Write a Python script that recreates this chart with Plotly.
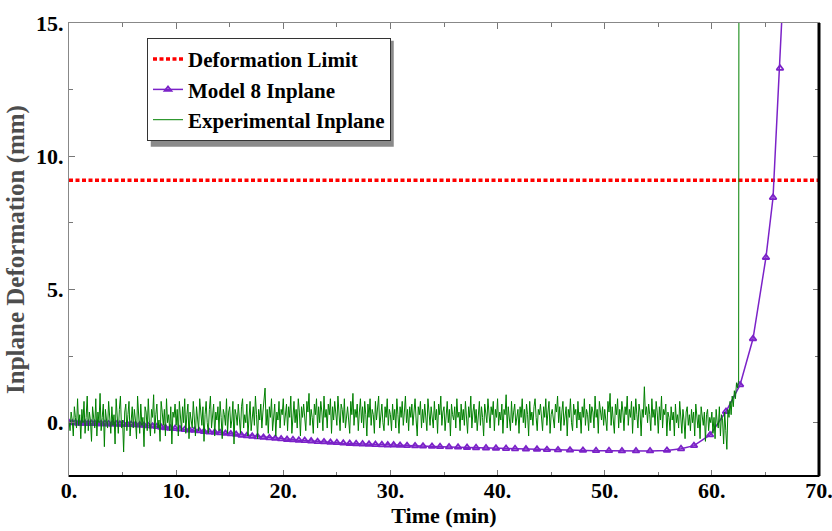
import numpy as np
import plotly.graph_objects as go

# ---- data -------------------------------------------------------------
deformation_limit = 9.1  # mm

# Model 8 in-plane deformation (time in min, deformation in mm)
model_t = [0.0, 0.3, 0.6, 0.9, 1.2, 1.5, 1.8, 2.1, 2.4, 2.7, 3.0, 3.35, 3.7, 4.05,
           4.4, 4.75, 5.1, 5.45, 5.8, 6.2, 6.6, 7.0, 7.4, 7.8, 8.2, 8.6, 9.0, 9.45,
           9.9, 10.35, 10.8, 11.25, 11.7, 12.15, 12.6, 13.1, 13.6, 14.1, 14.6, 15.1,
           15.6, 16.1, 16.6, 17.1, 17.6, 18.15, 18.7, 19.25, 19.8, 20.35, 20.9, 21.45,
           22.0, 22.6, 23.2, 23.8, 24.4, 25.0, 25.6, 26.2, 26.8, 27.4, 28.0, 28.6,
           29.2, 29.75, 30.3, 30.9, 31.55, 32.3, 33.04, 33.88, 34.63, 35.47, 36.31,
           37.15, 37.99, 38.92, 39.85, 40.79, 41.63, 42.65, 43.68, 44.61, 45.64,
           46.76, 47.97, 49.19, 50.40, 51.61, 52.92, 54.23, 55.81, 57.12, 58.33,
           59.83, 61.32, 62.63, 63.84, 65.05, 65.71, 66.36, 67.0]
model_d = [0.0, -0.01, -0.01, -0.02, -0.02, -0.02, -0.03, -0.03, -0.03, -0.04, -0.04,
           -0.04, -0.05, -0.05, -0.05, -0.06, -0.06, -0.07, -0.07, -0.08, -0.09, -0.10,
           -0.12, -0.13, -0.15, -0.17, -0.19, -0.21, -0.22, -0.24, -0.26, -0.28, -0.29,
           -0.31, -0.33, -0.35, -0.36, -0.38, -0.40, -0.42, -0.44, -0.47, -0.49, -0.51,
           -0.53, -0.55, -0.57, -0.59, -0.61, -0.63, -0.64, -0.66, -0.67, -0.69, -0.71,
           -0.72, -0.74, -0.75, -0.77, -0.78, -0.79, -0.80, -0.81, -0.82, -0.83, -0.84,
           -0.84, -0.85, -0.86, -0.87, -0.88, -0.89, -0.90, -0.91, -0.92, -0.93, -0.94,
           -0.95, -0.96, -0.97, -0.98, -0.99, -1.00, -1.01, -1.02, -1.03, -1.04, -1.05,
           -1.05, -1.06, -1.06, -1.06, -1.04, -0.98, -0.86, -0.46, 0.42, 1.42, 3.15,
           6.2, 8.45, 13.3, 19.0]

# Experimental in-plane deformation, logged every 0.1 min from t = 0
exp_dt = 0.1
exp_d = [
    0.05, -0.3, 0.4, 0.1, -0.5, 0.6, 0.2, -0.2, 0.9, -0.1, 0.3, -0.6, 0.5, 0.0, 0.8, -0.4, 0.2, 1.0, -0.3, 0.4,
    0.1, -0.7, 0.6, 0.3, -0.2, 0.9, -0.5, 0.4, 0.0, 1.1, -0.3, 0.2, 0.7, -0.9, 0.5, 0.1, -0.2, 0.8, 0.3, -0.4,
    0.6, -0.1, 0.3, -0.8, 0.9, 0.2, -0.4, 0.5, 1.0, -0.2, 0.1, -1.1, 0.4, 0.7, -0.3, 0.3, 0.8, -0.5, 0.2, 0.6,
    -0.2, 0.5, 0.1, -0.6, 1.0, 0.3, -0.4, 0.7, -0.1, 0.2, -0.9, 0.6, 0.4, -0.3, 0.9, 0.0, -0.5, 0.5, 0.2, 1.05,
    -0.4, 0.3, 0.7, -0.2, 0.1, -0.7, 0.8, 0.4, -0.1, 0.5, -0.5, 0.9, 0.0, 0.3, -0.3, 0.6, -0.8, 0.4, 0.2, 0.7,
    -0.1, 0.5, -0.5, 0.8, 0.2, -0.3, 0.6, 0.0, 0.9, -0.4, 0.3, 0.7, -0.6, 0.4, 0.1, -0.2, 0.8, 0.3, -0.5, 0.6,
    0.2, -0.3, 0.9, 0.4, -0.1, 0.6, -0.7, 0.3, 0.8, 0.0, -0.4, 0.5, 1.0, -0.2, 0.2, 0.7, -0.5, 0.4, 0.1, 0.6,
    -0.3, 0.8, 0.2, -0.6, 0.5, 0.3, -0.1, 0.9, -0.4, 0.4, 0.6, -0.2, 0.1, 0.8, -0.8, 0.5, 0.3, -0.1, 0.7, 0.2,
    -0.4, 0.6, 0.9, -0.2, 0.3, 0.0, 0.7, -0.5, 0.4, 0.8, -0.3, 0.2, 0.6, -0.1, 1.0, 0.3, -0.6, 0.5, 0.1, 0.7,
    -0.2, 0.4, 0.8, 1.3, -0.1, 0.5, -0.4, 0.6, 0.2, 0.9, -0.3, 0.3, 0.7, -0.5, 0.4, 0.1, 0.8, -0.2, 0.5, 0.3,
    0.9, -0.1, 0.4, 0.7, -0.3, 0.6, 0.2, 1.0, -0.4, 0.3, 0.8, 0.0, 0.5, -0.2, 0.9, 0.4, -0.5, 0.6, 0.2, 0.7,
    0.1, -0.3, 0.8, 0.4, 1.1, -0.1, 0.5, 0.2, -0.4, 0.7, 0.3, 0.9, -0.2, 0.6, 0.0, 0.8, 0.4, -0.3, 1.0, 0.2,
    0.5, -0.2, 0.7, 0.3, 0.9, -0.4, 0.6, 0.1, 0.8, 0.4, -0.1, 1.0, 0.2, -0.3, 0.7, 0.5, 0.0, 0.9, -0.2, 0.4,
    0.6, 0.1, -0.4, 0.8, 0.3, 1.1, -0.1, 0.5, 0.2, 0.7, -0.3, 0.4, 0.9, 0.0, 0.6, -0.2, 0.8, 0.3, -0.5, 0.7,
    0.2, 0.9, -0.1, 0.5, 0.3, -0.4, 0.8, 0.1, 0.6, 1.0, -0.2, 0.4, 0.7, 0.0, -0.3, 0.6, 0.2, 0.9, -0.1, 0.5,
    0.3, -0.3, 0.7, 0.1, 0.5, -0.2, 0.9, 0.3, -0.4, 0.6, 0.2, 0.8, -0.1, 0.4, 1.0, 0.0, 0.5, -0.3, 0.6, 0.2,
    0.7, -0.1, 0.4, 0.9, 0.1, -0.5, 0.6, 0.3, 0.8, -0.2, 0.5, 0.0, 0.7, 0.2, -0.3, 0.9, 0.4, -0.1, 0.6, 0.3,
    -0.2, 0.8, 0.1, 0.5, -0.4, 0.7, 0.3, 1.0, -0.1, 0.4, 0.6, -0.3, 0.2, 0.8, 0.0, 0.5, -0.5, 0.7, 0.3, 0.1,
    0.6, -0.2, 0.9, 0.2, 0.4, -0.3, 0.7, 0.1, 0.5, -0.1, 0.8, 0.3, -0.4, 0.6, 0.2, 1.0, -0.2, 0.4, 0.7, 0.0,
    0.5, -0.3, 0.3, 0.8, -0.1, 0.6, 0.2, -0.5, 0.7, 0.4, 0.0, 0.9, 0.1, -0.2, 0.6, 0.3, 0.8, -0.3, 0.5, 0.2,
    0.9, -0.1, 0.4, 0.1, 0.7, -0.4, 0.5, 0.3, 1.05, -0.2, 0.6, 0.2, -0.3, 0.8, 0.0, 0.4, 0.7, -0.1, 0.3, 0.5,
    -0.4, 0.6, 0.2, 0.9, 0.0, 0.5, -0.2, 0.7, 0.3, -0.5, 0.8, 0.1, 0.4, -0.1, 0.6, 0.9, 0.2, -0.3, 0.5, 0.3,
    0.7, 0.0, -0.3, 0.6, 0.2, 0.9, -0.1, 0.4, 0.8, -0.4, 0.3, 0.5, 0.1, -0.2, 0.7, 0.4, 1.0, 0.0, 0.6, -0.3,
    0.4, 0.8, -0.1, 0.3, 0.6, -0.5, 0.5, 0.2, 0.9, 0.0, -0.3, 0.7, 0.3, 0.5, -0.2, 0.8, 0.1, 0.4, -0.4, 0.6,
    0.2, 0.9, -0.1, 0.5, 0.3, -0.3, 0.7, 0.0, 0.6, 0.4, -0.2, 1.0, 0.2, 0.5, -0.4, 0.8, 0.3, 0.1, 0.6, -0.1,
    0.5, 0.2, -0.3, 0.8, 0.4, 1.1, -0.1, 0.6, 0.2, -0.4, 0.7, 0.3, 0.9, -0.2, 0.5, 0.0, 0.8, 0.4, -0.3, 0.6,
    0.3, 1.0, -0.1, 0.5, 0.2, 0.8, -0.4, 0.6, 0.1, 0.9, 0.3, -0.2, 0.7, 0.4, -0.5, 0.5, 0.2, 1.35, 0.3, 0.6,
    0.0, 0.7, 0.3, -0.3, 0.9, 0.2, 0.5, -0.1, 0.8, 0.4, -0.4, 0.6, 0.1, 1.0, -0.2, 0.5, 0.3, 0.7, -0.5, 0.4,
    0.2, -0.3, 0.6, 0.1, 0.4, -0.5, 0.7, 0.0, 0.3, -0.2, 0.8, 0.2, -0.4, 0.5, 0.1, -0.6, 0.4, 0.6, -0.1, 0.3,
    -0.3, 0.5, 0.0, 0.4, -0.5, 0.7, 0.1, -0.2, 0.3, -0.6, 0.6, 0.2, -0.1, 0.4, -0.7, 0.3, 0.5, -0.3, 0.2, 0.0,
    0.4, -0.4, 0.2, -0.6, 0.5, 0.0, -0.2, 0.6, -0.5, 0.3, 0.1, -0.8, 0.4, -0.3, -1.0, 0.5, 0.2, 0.8, 0.3, 1.0,
]
# final readings before the specimen lost the gauge
exp_tail_t = [62.0, 62.1, 62.2, 62.3, 62.4, 62.5, 62.55]
exp_tail_d = [0.6, 1.2, 0.9, 1.5, 1.3, 1.6, 30.0]

x_ticks = [0, 10, 20, 30, 40, 50, 60, 70]
x_labels = ["0.", "10.", "20.", "30.", "40.", "50.", "60.", "70."]
y_ticks = [0, 5, 10, 15]
y_labels = ["0.", "5.", "10.", "15."]

exp_t = list(np.arange(len(exp_d)) * exp_dt) + exp_tail_t
exp_all = exp_d + exp_tail_d

# ---- figure -----------------------------------------------------------
FONT = "Liberation Serif"
PURPLE = "#7B22C8"

fig = go.Figure()

fig.add_trace(go.Scatter(
    x=[0, 70], y=[deformation_limit, deformation_limit], mode="lines",
    name="Deformation Limit",
    line=dict(color="#FF0000", width=3.5, dash="4px,2.5px"),
))
fig.add_trace(go.Scatter(
    x=model_t, y=model_d, mode="lines+markers", name="Model 8 Inplane",
    line=dict(color=PURPLE, width=1.5),
    marker=dict(symbol="triangle-up-open", size=6, color=PURPLE, line=dict(width=1.8)),
))
fig.add_trace(go.Scatter(
    x=exp_t, y=exp_all, mode="lines", name="Experimental Inplane",
    line=dict(color="#008000", width=1),
))

axis_common = dict(
    showgrid=False, zeroline=False, ticks="inside", ticklen=6, tickwidth=1,
    tickcolor="#777", showline=True, linecolor="#888", linewidth=1, mirror="ticks",
    ticklabeloverflow="allow", automargin=False,
    tickfont=dict(family=FONT, size=22, color="black", weight="bold"),
)

fig.update_xaxes(
    range=[0, 70], tickvals=x_ticks, ticktext=x_labels, ticklabelstandoff=-5,
    minor=dict(dtick=5, ticks="inside", ticklen=4, tickcolor="#777"),
    title=dict(text="Time (min)", standoff=2,
               font=dict(family=FONT, size=22, color="black", weight="bold")),
    **axis_common,
)
fig.update_yaxes(
    range=[-2, 15], tickvals=y_ticks, ticktext=y_labels,
    minor=dict(dtick=2.5, ticks="inside", ticklen=4, tickcolor="#777"),
    title=dict(text="Inplane Deformation (mm)", standoff=4,
               font=dict(family=FONT, size=25, color="#4d4d4d", weight="bold")),
    **axis_common,
)

# heavier frame on right and bottom edges
fig.add_shape(type="line", xref="paper", yref="paper", x0=1, x1=1, y0=0, y1=1,
              line=dict(color="black", width=3), layer="above")
fig.add_shape(type="line", xref="paper", yref="paper", x0=0, x1=1, y0=0, y1=0,
              line=dict(color="black", width=2), layer="above")
# drop shadow behind the legend box
fig.add_shape(type="rect", xref="paper", yref="paper",
              x0=0.109, x1=0.433, y0=0.727, y1=0.961,
              line=dict(width=0), fillcolor="#8a8a8a", layer="above")

fig.update_layout(
    width=832, height=531,
    margin=dict(l=69, r=13, t=23, b=55),
    paper_bgcolor="white", plot_bgcolor="white",
    showlegend=True,
    legend=dict(
        x=0.104, y=0.967, xanchor="left", yanchor="top",
        bgcolor="white", bordercolor="#333", borderwidth=1,
        font=dict(family=FONT, size=21, color="black", weight="bold"),
        itemwidth=30,
    ),
)

fig.write_html("out.html")
